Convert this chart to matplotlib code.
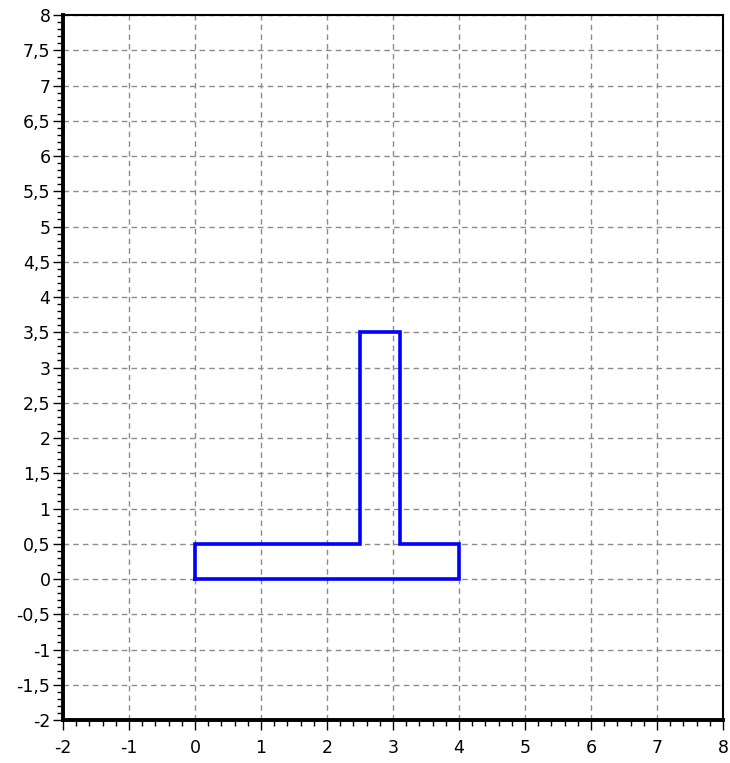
import matplotlib
matplotlib.use('Agg')
import matplotlib.pyplot as plt
from matplotlib.ticker import MultipleLocator, FuncFormatter

# outline of the T-shaped section
shape_x = [0, 0, 2.5, 2.5, 3.1, 3.1, 4, 4, 0]
shape_y = [0, 0.5, 0.5, 3.5, 3.5, 0.5, 0.5, 0, 0]

x_range = (-2, 8)
y_range = (-2, 8)

def comma_fmt(v, pos):
  s = ('%.1f' % v).rstrip('0').rstrip('.')
  if s == '-0':
    s = '0'
  return s.replace('.', ',')

fig = plt.figure(figsize = (7.3, 7.63), dpi = 100)
ax = fig.add_axes([0.0863, 0.0563, 0.9041, 0.924])

ax.plot(shape_x, shape_y, color = '#0000ff', lw = 2.6, solid_joinstyle = 'miter')

ax.set_xlim(*x_range)
ax.set_ylim(*y_range)

ax.xaxis.set_major_locator(MultipleLocator(1))
ax.xaxis.set_minor_locator(MultipleLocator(0.2))
ax.yaxis.set_major_locator(MultipleLocator(0.5))
ax.yaxis.set_minor_locator(MultipleLocator(0.1))
ax.xaxis.set_major_formatter(FuncFormatter(comma_fmt))
ax.yaxis.set_major_formatter(FuncFormatter(comma_fmt))

ax.grid(True, which = 'major', linestyle = (0, (4, 3)), color = '#8c8c8c', lw = 1.0)

ax.tick_params(which = 'major', direction = 'out', length = 7, width = 1, labelsize = 12.5)
ax.tick_params(which = 'minor', direction = 'out', length = 4, width = 1)
ax.tick_params(axis = 'x', which = 'major', pad = 7)
ax.tick_params(axis = 'y', which = 'major', pad = 2)

for side in ['left', 'bottom']:
  ax.spines[side].set_linewidth(2.8)
for side in ['top', 'right']:
  ax.spines[side].set_linewidth(1.5)

for lbl in ax.get_xticklabels() + ax.get_yticklabels():
  lbl.set_family('DejaVu Sans')

fig.savefig('out.png', dpi = 100)
plt.close()
